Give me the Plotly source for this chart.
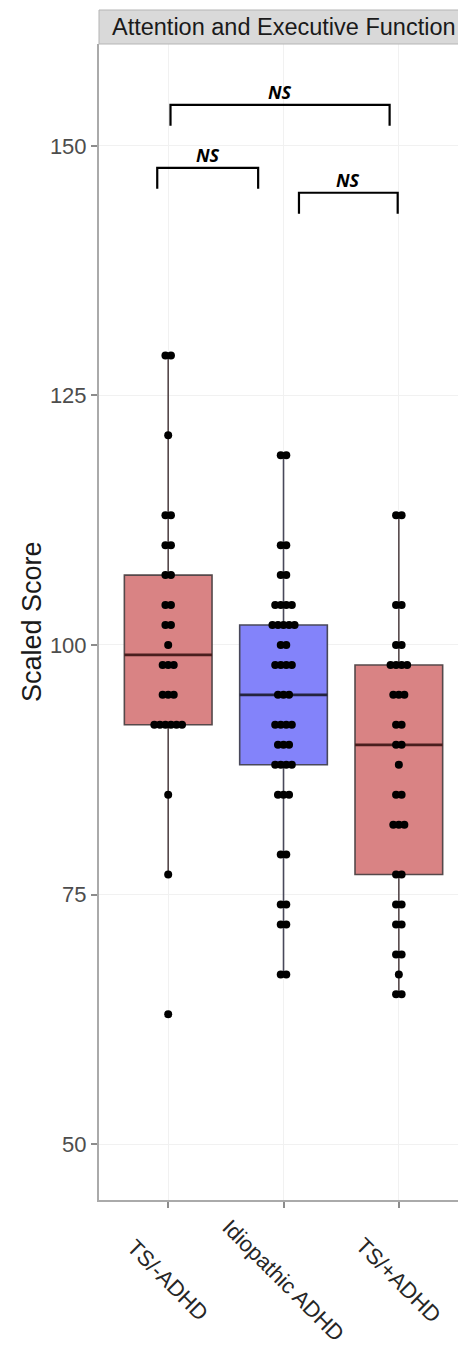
import plotly.graph_objects as go
from collections import Counter

# ---------------- data ----------------
categories = ["TS/-ADHD", "Idiopathic ADHD", "TS/+ADHD"]

ts_minus_adhd = [129, 129, 121, 113, 113, 110, 110, 107, 107, 104, 104, 102, 102,
                 100, 98, 98, 98, 95, 95, 95, 92, 92, 92, 92, 92, 92, 85, 77, 63]
idiopathic_adhd = [119, 119, 110, 110, 107, 107, 104, 104, 104, 104, 102, 102, 102,
                   102, 102, 100, 100, 98, 98, 98, 98, 95, 95, 95, 92, 92, 92, 92,
                   90, 90, 90, 88, 88, 88, 88, 85, 85, 85, 79, 79, 74, 74, 72, 72, 67, 67]
ts_plus_adhd = [113, 113, 104, 104, 100, 100, 98, 98, 98, 98, 95, 95, 95, 92, 92,
                90, 90, 88, 85, 85, 82, 82, 82, 77, 77, 74, 74, 72, 72, 69, 69, 67, 65, 65]

# box statistics
q1 = [92, 88, 77]
median = [99, 95, 90]
q3 = [107, 102, 98]
whisker_low = [77, 67, 65]
whisker_high = [129, 119, 113]

y_ticks = [50, 75, 100, 125, 150]
panel_title = "Attention and Executive Function"
y_title = "Scaled Score"
sig_labels = ["NS", "NS", "NS"]

# ---------------- styling ----------------
box_fill = ["#d98384", "#8383fa", "#d98384"]
box_line = ["#55484a", "#48485a", "#55484a"]
median_col = ["#4a1e1e", "#24243f", "#4a1e1e"]
box_width = 0.76
FONT = "Liberation Sans, Arial, sans-serif"

groups = [ts_minus_adhd, idiopathic_adhd, ts_plus_adhd]

fig = go.Figure()

# boxes (precomputed statistics)
for i in range(len(categories)):
    fig.add_trace(go.Box(
        x=[i], q1=[q1[i]], median=[median[i]], q3=[q3[i]],
        lowerfence=[whisker_low[i]], upperfence=[whisker_high[i]],
        width=box_width, whiskerwidth=0, boxpoints=False,
        fillcolor=box_fill[i], line=dict(color=box_line[i], width=1.6),
        showlegend=False, hoverinfo="skip"))

# thicker median lines
for i in range(len(categories)):
    fig.add_trace(go.Scatter(
        x=[i - box_width / 2, i + box_width / 2], y=[median[i], median[i]],
        mode="lines", line=dict(color=median_col[i], width=2.8),
        showlegend=False, hoverinfo="skip"))

# points, ties spread horizontally (deterministic)
spacing = 0.048
for i, vals in enumerate(groups):
    counts = Counter(vals)
    seen = Counter()
    xs, ys = [], []
    for v in vals:
        k = counts[v]
        j = seen[v]
        seen[v] += 1
        xs.append(i + (j - (k - 1) / 2) * spacing)
        ys.append(v)
    fig.add_trace(go.Scatter(
        x=xs, y=ys, mode="markers",
        marker=dict(color="black", size=8),
        showlegend=False, hoverinfo="skip"))

# significance brackets: (x start, x end, y level)
brackets = [(0.02, 1.92, 154.1), (-0.095, 0.78, 147.8), (1.134, 1.99, 145.3)]
leg = 2.1
shapes = []
annotations = []
for (xa, xb, yl), lab in zip(brackets, sig_labels):
    shapes.append(dict(type="path", xref="x", yref="y",
                       path=f"M {xa},{yl-leg} L {xa},{yl} L {xb},{yl} L {xb},{yl-leg}",
                       line=dict(color="black", width=2.2)))
    annotations.append(dict(x=(xa + xb) / 2, y=yl, xref="x", yref="y",
                            text=lab, showarrow=False, yanchor="middle", yshift=13,
                            font=dict(family="Open Sans, sans-serif", size=18,
                                      color="black", style="italic", weight="bold")))

# strip
plot_h = 1349 - 44 - 149
strip_h = 34
shapes.append(dict(type="rect", xref="paper", yref="paper",
                   x0=0, x1=1.02, y0=1, y1=1 + strip_h / plot_h,
                   fillcolor="#d9d9d9", line=dict(color="#b5b5b5", width=1), layer="above"))
annotations.append(dict(x=1, xref="x", y=1 + strip_h / 2 / plot_h, yref="paper",
                        text=panel_title, showarrow=False, xanchor="center", yanchor="middle",
                        font=dict(family=FONT, size=23.5, color="#1a1a1a")))

# y title
annotations.append(dict(x=0, xref="paper", y=0.5, yref="paper", xshift=-67,
                        text=y_title, textangle=-90, showarrow=False,
                        xanchor="center", yanchor="middle",
                        font=dict(family=FONT, size=27, color="#1a1a1a")))

# rotated x category labels
for i, c in enumerate(categories):
    annotations.append(dict(x=i, xref="x", y=0, yref="paper", yshift=-80,
                            text=c, textangle=45, showarrow=False,
                            xanchor="center", yanchor="middle",
                            font=dict(family=FONT, size=22, color="#262626")))

fig.update_layout(
    width=458, height=1349,
    margin=dict(l=99, r=0, t=44, b=149),
    paper_bgcolor="white", plot_bgcolor="white",
    shapes=shapes, annotations=annotations,
    xaxis=dict(range=[-0.6, 2.513], tickvals=list(range(len(categories))),
               showticklabels=False, ticks="outside", ticklen=6, tickcolor="#8c8c8c",
               tickwidth=1.5, showgrid=True, gridcolor="#f1f1f1", gridwidth=1,
               showline=True, linecolor="#aaaaaa", linewidth=2, zeroline=False),
    yaxis=dict(range=[44.4, 160.2], tickvals=y_ticks, ticks="outside", ticklen=6,
               tickcolor="#8c8c8c", tickwidth=1.5,
               tickfont=dict(family=FONT, size=22, color="#4d4d4d"),
               showgrid=True, gridcolor="#f1f1f1", gridwidth=1,
               showline=True, linecolor="#aaaaaa", linewidth=2, zeroline=False),
)

fig.write_html("out.html")
